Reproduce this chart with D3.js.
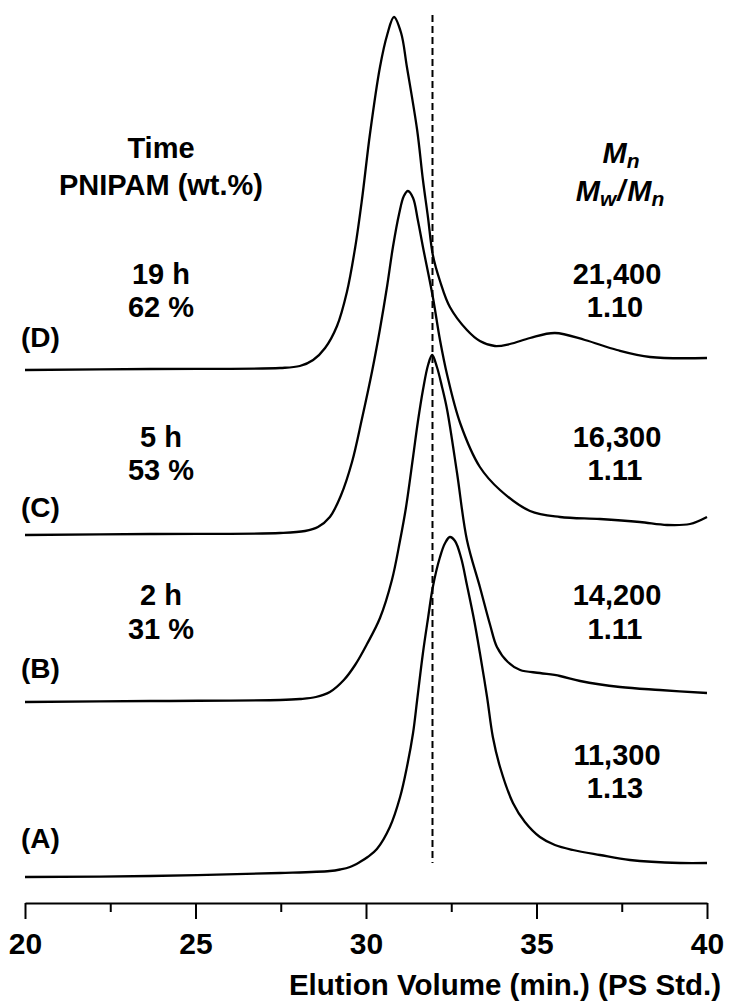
<!DOCTYPE html>
<html>
<head>
<meta charset="utf-8">
<script src="https://cdn.jsdelivr.net/npm/d3@7"></script>
<style>
  body { margin: 0; background: #fff; }
  text { font-family: "Liberation Sans", Arial, sans-serif; font-weight: bold; fill: #000; }
</style>
</head>
<body>
<div id="chart"></div>
<script>
// elution volume (min.) and detector signal above each trace's own baseline (a.u.)
const xA = [20.0, 23.67, 27.48, 28.94, 29.24, 29.53, 29.82, 30.05, 30.32, 30.70, 31.00, 31.20, 31.38, 31.50, 31.67, 31.82, 31.96, 32.17, 32.32, 32.46, 32.61, 32.79, 32.96, 33.17, 33.34, 33.55, 33.72, 33.93, 34.31, 34.66, 35.10, 35.54, 36.07, 36.86, 37.74, 39.21, 40.0];
const yA = [0, 1, 4, 6, 7.5, 10, 15, 20, 28, 50, 80, 110, 144, 177, 224, 259, 290, 320, 334, 340, 336, 319, 292, 257, 224, 180, 140, 110, 74, 55, 40, 32, 27, 22, 17, 14, 14];

const xB = [20.0, 23.67, 27.48, 28.06, 28.53, 28.94, 29.35, 29.68, 30.03, 30.41, 30.76, 30.99, 31.17, 31.38, 31.52, 31.67, 31.82, 31.94, 32.08, 32.23, 32.38, 32.67, 32.96, 33.34, 33.64, 33.84, 34.16, 34.52, 35.10, 35.69, 36.28, 37.45, 38.62, 40.0];
const yB = [-2, -1, 0, 1, 3, 8, 20, 35, 56, 82, 120, 158, 192, 243, 278, 310, 335, 345, 333, 313, 290, 227, 160, 113, 75, 53, 38, 30, 27, 24, 19, 13, 10, 7];

const xC = [20.0, 23.67, 27.48, 28.21, 28.59, 28.94, 29.27, 29.59, 29.88, 30.18, 30.41, 30.62, 30.79, 30.97, 31.11, 31.23, 31.38, 31.52, 31.67, 31.96, 32.17, 32.38, 32.76, 33.34, 33.93, 34.81, 35.69, 36.86, 38.03, 38.83, 39.50, 40.0];
const yC = [-1, 0, 1, 3, 7, 17, 39, 72, 115, 163, 205, 248, 287, 320, 338, 343, 336, 314, 287, 237, 194, 159, 111, 67, 44, 23, 17, 15, 12, 9, 10, 17];

const xD = [20.0, 23.67, 27.48, 28.06, 28.45, 28.80, 29.15, 29.44, 29.68, 29.88, 30.12, 30.41, 30.62, 30.82, 31.03, 31.20, 31.50, 31.67, 31.82, 31.96, 32.17, 32.46, 32.96, 33.34, 33.78, 34.22, 34.81, 35.54, 36.42, 37.36, 38.33, 40.0];
const yD = [0, 1, 2, 4, 10, 22, 44, 78, 122, 170, 237, 303, 335, 353, 337, 303, 240, 190, 152, 115, 89, 63, 40, 29, 24, 26, 32, 37, 30, 20, 13, 12];

// vertical offset of each trace (stacked chromatograms)
const offsets = [26, 203, 369, 533];
const sampleLabels = ["(A)", "(B)", "(C)", "(D)"];
const times = [null, "2 h", "5 h", "19 h"];
const pnipam = [null, "31 %", "53 %", "62 %"];
const mn = ["11,300", "14,200", "16,300", "21,400"];
const pdi = ["1.13", "1.11", "1.11", "1.10"];

const majorTicks = [20, 25, 30, 35, 40];
const minorTicks = [22.5, 27.5, 32.5, 37.5];
const refVolume = 31.95;

const width = 729, height = 1004;
const margin = {top: 3, right: 22, bottom: 101, left: 25};

const svg = d3.select("#chart").append("svg")
  .attr("width", width)
  .attr("height", height);

const x = d3.scaleLinear().domain([20, 40]).range([margin.left, width - margin.right]);
const y = d3.scaleLinear().domain([0, 900]).range([height - margin.bottom, margin.top]);

const series = [[xA, yA], [xB, yB], [xC, yC], [xD, yD]];

const line = d3.line()
  .x(d => x(d[0]))
  .y(d => y(d[1]))
  .curve(d3.curveCatmullRom.alpha(0.5));

// reference line at the peak of (B)
svg.append("line")
  .attr("x1", x(refVolume)).attr("x2", x(refVolume))
  .attr("y1", y(888)).attr("y2", y(40))
  .attr("stroke", "#000")
  .attr("stroke-width", 2)
  .attr("stroke-dasharray", "7,4");

series.forEach(([xs, ys], i) => {
  const pts = xs.map((v, j) => [v, ys[j] + offsets[i]]);
  svg.append("path")
    .datum(pts)
    .attr("d", line)
    .attr("fill", "none")
    .attr("stroke", "#000")
    .attr("stroke-width", 2.3);
});

// x axis
const axisY = y(0);
const gAxis = svg.append("g").attr("transform", "translate(0," + axisY + ")");
gAxis.call(d3.axisBottom(x).tickValues(majorTicks).tickSize(16).tickSizeOuter(0).tickPadding(14));
gAxis.call(g => g.select(".domain").attr("stroke-width", 2));
gAxis.selectAll(".tick line").attr("stroke-width", 2);
gAxis.selectAll(".tick text")
  .attr("font-size", 30)
  .attr("font-family", null);

svg.append("g").attr("transform", "translate(0," + axisY + ")")
  .call(d3.axisBottom(x).tickValues(minorTicks).tickSize(9).tickFormat(""))
  .call(g => g.select(".domain").remove())
  .selectAll(".tick line").attr("stroke-width", 2);

svg.append("text")
  .attr("x", 721).attr("y", 995)
  .attr("text-anchor", "end")
  .attr("font-size", 29.5)
  .text("Elution Volume (min.) (PS Std.)");

// annotations
const leftX = 161, rightX = 617;
const lineY = [[765, 798], [605, 639], [447, 480], [284, 317]];
const labelY = [848, 678, 517, 347];

svg.append("text").attr("x", leftX).attr("y", 158).attr("text-anchor", "middle")
  .attr("font-size", 29).text("Time");
svg.append("text").attr("x", leftX).attr("y", 195).attr("text-anchor", "middle")
  .attr("font-size", 29).text("PNIPAM (wt.%)");

const mnHead = svg.append("text").attr("x", 621).attr("y", 163).attr("text-anchor", "middle")
  .attr("font-size", 29);
mnHead.append("tspan").attr("font-style", "italic").text("M");
mnHead.append("tspan").attr("font-style", "italic").attr("font-size", 21).attr("dy", 5).text("n");

const pdiHead = svg.append("text").attr("x", 620).attr("y", 201).attr("text-anchor", "middle")
  .attr("font-size", 29);
pdiHead.append("tspan").attr("font-style", "italic").text("M");
pdiHead.append("tspan").attr("font-style", "italic").attr("font-size", 21).attr("dy", 5).text("w");
pdiHead.append("tspan").attr("font-style", "italic").attr("dy", -5).attr("dx", 1).text("/");
pdiHead.append("tspan").attr("font-style", "italic").attr("dx", 2).text("M");
pdiHead.append("tspan").attr("font-style", "italic").attr("font-size", 21).attr("dy", 5).text("n");

sampleLabels.forEach((s, i) => {
  svg.append("text").attr("x", 21).attr("y", labelY[i]).attr("font-size", 28).text(s);
  if (times[i]) {
    svg.append("text").attr("x", leftX).attr("y", lineY[i][0]).attr("text-anchor", "middle")
      .attr("font-size", 29).text(times[i]);
    svg.append("text").attr("x", leftX).attr("y", lineY[i][1]).attr("text-anchor", "middle")
      .attr("font-size", 29).text(pnipam[i]);
  }
  svg.append("text").attr("x", rightX).attr("y", lineY[i][0]).attr("text-anchor", "middle")
    .attr("font-size", 29).text(mn[i]);
  svg.append("text").attr("x", rightX - 2).attr("y", lineY[i][1]).attr("text-anchor", "middle")
    .attr("font-size", 29).text(pdi[i]);
});
</script>
</body>
</html>
